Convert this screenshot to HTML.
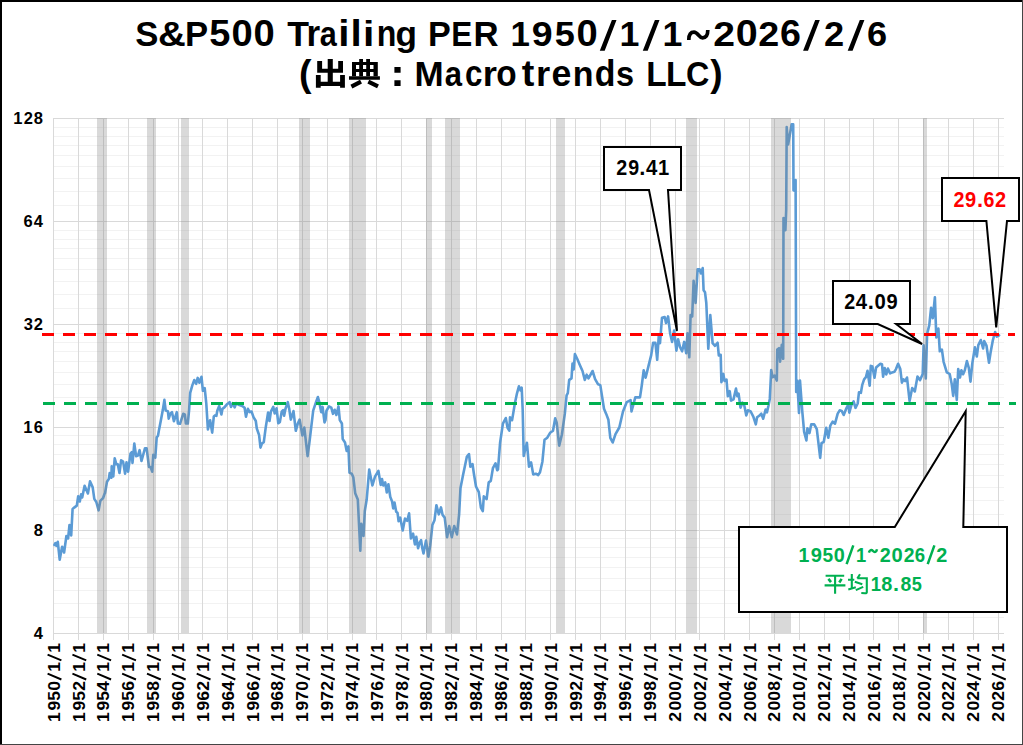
<!DOCTYPE html><html><head><meta charset="utf-8"><style>html,body{margin:0;padding:0;background:#fff;}body{width:1023px;height:745px;overflow:hidden;}svg{display:block;}text{font-family:"Liberation Sans",sans-serif;font-weight:bold;}</style></head><body>
<svg width="1023" height="745" viewBox="0 0 1023 745">
<rect x="0" y="0" width="1023" height="745" fill="#fff"/>
<path d="M53 617.5H1004M53 603.5H1004M53 590.5H1004M53 578.5H1004M53 567.5H1004M53 557.5H1004M53 547.5H1004M53 538.5H1004M53 514.5H1004M53 500.5H1004M53 487.5H1004M53 475.5H1004M53 464.5H1004M53 454.5H1004M53 444.5H1004M53 435.5H1004M53 411.5H1004M53 397.5H1004M53 384.5H1004M53 372.5H1004M53 361.5H1004M53 351.5H1004M53 342.5H1004M53 333.5H1004M53 308.5H1004M53 294.5H1004M53 281.5H1004M53 269.5H1004M53 258.5H1004M53 248.5H1004M53 239.5H1004M53 230.5H1004M53 205.5H1004M53 191.5H1004M53 178.5H1004M53 166.5H1004M53 155.5H1004M53 145.5H1004M53 136.5H1004M53 127.5H1004" stroke="#f2f2f2" stroke-width="1" fill="none"/>
<path d="M53.5 118V640M78.5 118V640M103.5 118V640M128.5 118V640M153.5 118V640M178.5 118V640M202.5 118V640M227.5 118V640M252.5 118V640M277.5 118V640M302.5 118V640M327.5 118V640M352.5 118V640M376.5 118V640M401.5 118V640M426.5 118V640M451.5 118V640M476.5 118V640M501.5 118V640M525.5 118V640M550.5 118V640M575.5 118V640M600.5 118V640M625.5 118V640M650.5 118V640M675.5 118V640M699.5 118V640M724.5 118V640M749.5 118V640M774.5 118V640M799.5 118V640M824.5 118V640M849.5 118V640M873.5 118V640M898.5 118V640M923.5 118V640M948.5 118V640M973.5 118V640M998.5 118V640" stroke="#d9d9d9" stroke-width="1" fill="none"/>
<path d="M53 118.5H1004M53 221.5H1004M53 324.5H1004M53 427.5H1004M53 530.5H1004M53 633.5H1004" stroke="#d9d9d9" stroke-width="1" fill="none"/>
<path d="M54.4 545.0 L55.4 543.2 L56.4 545.8 L57.8 541.8 L59.7 559.7 L62.1 546.8 L64.1 552.5 L66.4 536.0 L68.1 538.5 L69.5 525.0 L71.2 535.5 L72.6 508.9 L74.2 507.6 L76.8 505.6 L78.2 496.2 L79.8 501.5 L81.1 494.4 L82.2 497.5 L84.6 485.8 L87.9 493.5 L90.0 481.4 L92.7 487.4 L94.3 498.9 L96.3 502.0 L98.6 510.3 L100.3 500.9 L103.0 498.2 L104.4 494.2 L105.0 493.2 L107.0 481.7 L108.8 479.1 L109.7 473.0 L111.4 477.7 L111.7 466.3 L113.3 476.4 L114.7 458.3 L116.4 464.3 L117.8 464.3 L119.5 473.0 L121.1 460.3 L123.1 461.6 L125.1 473.7 L126.5 462.3 L128.1 471.7 L130.5 453.6 L131.8 452.2 L132.5 463.0 L134.3 443.5 L136.1 456.2 L137.9 455.6 L139.6 450.2 L141.5 461.0 L145.0 448.2 L146.6 448.2 L149.0 467.0 L150.6 467.0 L152.2 471.7 L153.3 454.9 L155.3 457.6 L156.7 437.4 L158.0 435.8 L159.1 429.4 L160.7 421.3 L162.8 410.1 L164.4 399.9 L165.7 410.6 L167.9 411.2 L168.7 418.7 L170.3 413.8 L172.0 412.2 L173.9 421.3 L176.8 412.2 L177.9 423.5 L180.0 423.8 L183.2 413.8 L184.8 414.4 L185.9 423.5 L187.8 423.5 L189.1 410.1 L190.2 392.9 L192.3 385.4 L194.3 380.0 L196.1 383.8 L197.7 377.9 L199.3 382.7 L201.5 376.8 L202.9 390.8 L204.7 388.1 L206.3 403.6 L207.9 429.4 L210.1 420.3 L212.2 432.6 L213.8 416.5 L215.0 415.4 L216.4 415.8 L217.3 410.7 L219.2 406.0 L221.4 414.4 L222.5 408.8 L224.4 407.4 L226.7 404.6 L229.6 402.2 L231.0 406.9 L232.8 403.1 L234.7 407.4 L236.1 403.1 L239.4 405.0 L242.2 406.0 L244.6 407.8 L246.0 416.8 L247.9 408.8 L249.7 412.1 L251.6 411.6 L253.5 417.2 L255.8 421.0 L256.8 428.5 L259.1 435.1 L260.5 447.7 L261.9 443.5 L263.8 442.1 L265.7 427.6 L268.1 412.5 L269.5 421.0 L270.9 411.6 L273.3 406.9 L274.7 413.5 L276.6 408.3 L278.3 423.3 L279.9 421.9 L281.7 411.6 L283.1 410.2 L284.1 415.8 L285.5 408.8 L287.8 402.2 L289.2 408.8 L290.8 419.6 L293.5 411.1 L295.8 430.8 L297.7 423.8 L299.6 419.6 L302.4 435.5 L304.3 427.6 L307.6 456.2 L309.4 442.6 L311.3 426.6 L313.2 410.7 L316.0 402.2 L317.9 397.0 L319.3 402.2 L321.2 412.1 L322.6 406.9 L324.5 422.4 L325.5 420.0 L326.4 411.0 L329.0 406.4 L331.3 407.6 L333.0 413.8 L334.7 409.8 L336.4 415.0 L338.5 406.4 L339.8 420.1 L341.9 423.5 L342.7 439.0 L345.0 442.4 L346.7 451.0 L348.4 446.4 L349.5 472.6 L351.8 473.8 L353.3 477.2 L355.2 493.2 L357.8 499.5 L360.3 550.6 L361.3 523.8 L363.5 535.9 L364.8 511.0 L366.7 499.5 L369.2 469.6 L372.4 485.5 L375.0 476.6 L378.4 470.8 L380.7 484.9 L382.0 479.1 L383.3 485.5 L385.2 482.3 L386.8 492.5 L388.4 484.2 L390.3 497.0 L392.1 501.5 L393.2 508.4 L394.5 502.5 L396.2 511.7 L397.5 512.7 L398.6 521.3 L400.2 517.6 L402.7 530.4 L405.0 518.6 L407.2 520.8 L409.1 513.3 L410.9 538.5 L413.1 533.7 L414.9 544.4 L416.3 536.9 L418.1 548.2 L419.5 542.8 L421.1 540.1 L422.2 547.6 L423.5 553.5 L426.0 540.6 L428.4 556.7 L430.2 545.5 L432.4 525.1 L434.5 520.2 L436.4 505.2 L438.8 514.3 L441.0 507.4 L442.6 514.9 L444.7 517.6 L447.1 537.3 L449.2 526.0 L451.8 537.3 L454.2 526.0 L457.0 534.4 L459.1 514.7 L460.5 487.9 L463.0 475.2 L466.8 456.9 L469.0 454.1 L470.4 466.8 L472.5 464.0 L473.9 473.8 L476.0 486.5 L478.8 492.1 L480.9 507.7 L482.8 511.2 L483.8 496.4 L486.6 499.2 L488.7 482.3 L490.8 480.9 L492.9 468.2 L495.5 463.3 L497.2 470.3 L498.0 469.4 L500.1 442.7 L502.9 423.6 L505.8 418.0 L507.6 427.9 L509.3 430.7 L510.0 417.3 L512.1 420.1 L514.9 403.2 L517.0 393.3 L518.9 386.3 L520.6 390.5 L521.7 387.7 L522.7 410.2 L523.7 456.0 L525.5 448.3 L526.9 442.7 L529.0 466.6 L531.1 462.4 L533.2 474.4 L535.8 473.7 L538.2 475.1 L540.0 472.3 L542.4 461.7 L544.5 439.8 L547.3 437.7 L550.1 432.8 L553.0 430.7 L555.2 418.3 L556.7 422.7 L559.2 445.6 L561.9 434.5 L564.8 413.9 L566.6 395.4 L567.8 393.2 L569.2 379.9 L571.5 378.4 L572.5 363.6 L573.7 369.5 L574.9 354.0 L577.4 359.2 L579.6 364.4 L582.5 371.0 L584.8 379.9 L586.7 374.7 L588.5 378.4 L592.6 371.0 L595.1 379.1 L598.1 384.3 L600.3 385.1 L604.0 408.7 L606.2 413.9 L608.4 419.8 L610.3 437.8 L612.7 442.5 L615.5 434.1 L619.3 427.5 L623.0 411.5 L626.8 402.1 L630.6 400.2 L631.5 411.5 L635.3 397.4 L640.0 397.4 L641.8 385.2 L643.7 370.2 L645.6 377.7 L648.4 366.4 L651.2 355.1 L653.1 342.9 L655.4 342.9 L657.2 359.8 L658.8 335.4 L660.0 343.2 L662.0 317.7 L664.7 317.0 L666.0 323.1 L668.1 316.4 L670.1 333.2 L672.1 341.9 L674.1 330.5 L676.4 350.6 L678.1 339.2 L680.1 347.2 L682.1 351.3 L684.2 341.9 L686.2 353.3 L687.5 333.2 L689.3 357.3 L690.6 315.0 L692.2 316.4 L693.6 280.8 L695.6 303.0 L697.6 269.4 L699.6 269.4 L700.9 273.4 L702.7 268.1 L703.6 290.2 L705.0 292.2 L706.3 303.0 L708.3 348.6 L710.3 315.0 L712.6 343.2 L715.0 345.9 L717.6 342.7 L718.8 355.4 L720.7 354.8 L721.4 382.2 L723.3 373.9 L724.6 380.9 L726.5 379.6 L727.8 396.2 L729.7 391.1 L731.0 400.7 L733.5 399.4 L736.0 388.6 L737.3 396.2 L738.6 393.7 L740.5 407.7 L742.4 402.6 L744.1 404.5 L746.3 415.4 L747.9 410.3 L750.7 411.5 L753.3 416.6 L755.8 424.3 L757.1 417.3 L759.2 415.8 L761.3 413.7 L763.2 418.7 L765.6 409.5 L767.0 412.3 L768.4 406.0 L769.8 398.9 L771.2 370.0 L772.6 377.1 L774.7 375.7 L776.8 380.6 L777.3 349.6 L779.0 348.2 L780.1 361.6 L781.8 344.7 L783.2 358.8 L783.5 218.0 L785.4 230.1 L786.2 210.0 L786.7 127.1 L788.1 144.5 L790.5 131.1 L791.6 124.4 L793.2 124.4 L793.5 190.2 L794.8 190.8 L795.6 180.1 L796.2 391.9 L797.3 380.6 L799.0 413.0 L800.0 380.6 L801.4 399.5 L802.3 411.6 L804.1 431.7 L806.4 440.5 L807.4 428.4 L809.5 433.1 L811.2 424.4 L814.2 424.4 L816.8 429.1 L820.2 457.9 L821.5 443.2 L823.8 441.8 L826.2 427.7 L828.3 437.8 L830.3 425.7 L832.7 421.7 L835.0 423.7 L837.7 413.6 L839.7 410.3 L841.7 410.9 L843.7 415.0 L846.1 408.9 L848.4 404.2 L849.3 412.6 L851.4 405.1 L853.6 401.3 L855.5 407.8 L857.7 403.5 L859.0 392.2 L860.9 392.8 L862.2 385.2 L864.1 379.3 L865.9 377.2 L867.5 370.8 L869.7 385.8 L870.8 365.9 L872.4 366.5 L874.5 377.7 L876.1 367.5 L880.4 363.8 L882.0 364.3 L883.1 376.7 L884.7 368.1 L886.3 374.5 L887.9 368.6 L890.1 373.4 L892.2 372.4 L894.4 371.8 L896.0 369.1 L898.1 363.8 L900.3 369.1 L901.9 382.6 L903.5 379.3 L905.2 381.0 L907.0 377.5 L909.6 401.1 L912.2 388.0 L914.8 391.5 L917.5 376.6 L920.1 380.1 L922.7 374.0 L923.6 345.2 L925.8 378.4 L927.1 333.9 L929.3 325.1 L931.1 307.7 L932.8 318.2 L934.9 297.2 L936.3 337.4 L938.4 328.6 L939.8 351.3 L941.9 349.6 L943.6 361.8 L946.8 372.3 L949.7 374.0 L951.7 383.9 L953.2 395.9 L954.8 379.4 L956.8 399.9 L958.2 369.1 L960.0 377.6 L961.4 370.2 L963.1 374.2 L964.8 370.2 L966.9 361.1 L968.8 367.9 L970.5 381.6 L972.3 363.4 L974.9 347.4 L976.8 356.5 L978.3 345.1 L980.8 340.0 L983.1 348.5 L984.2 341.1 L986.5 345.7 L989.0 362.8 L990.5 353.1 L992.8 340.5 L995.1 332.0 L996.8 336.6 L999.1 335.4" stroke="#5b9bd5" stroke-width="2.6" fill="none" stroke-linejoin="round" stroke-linecap="round"/>
<rect x="97" y="118" width="10" height="515" fill="#808080" fill-opacity="0.3"/>
<rect x="147" y="118" width="9" height="515" fill="#808080" fill-opacity="0.3"/>
<rect x="181" y="118" width="8" height="515" fill="#808080" fill-opacity="0.3"/>
<rect x="299" y="118" width="11" height="515" fill="#808080" fill-opacity="0.3"/>
<rect x="349" y="118" width="17" height="515" fill="#808080" fill-opacity="0.3"/>
<rect x="426" y="118" width="6" height="515" fill="#808080" fill-opacity="0.3"/>
<rect x="445" y="118" width="15" height="515" fill="#808080" fill-opacity="0.3"/>
<rect x="556" y="118" width="9" height="515" fill="#808080" fill-opacity="0.3"/>
<rect x="686" y="118" width="11" height="515" fill="#808080" fill-opacity="0.3"/>
<rect x="771" y="118" width="20" height="515" fill="#808080" fill-opacity="0.3"/>
<rect x="923" y="118" width="4" height="515" fill="#808080" fill-opacity="0.3"/>
<path d="M42 334.5H1015" stroke="#ff0000" stroke-width="3" stroke-dasharray="12 9" fill="none"/>
<path d="M43 403.5H1016" stroke="#00b050" stroke-width="3" stroke-dasharray="12 9" fill="none"/>
<rect x="0" y="0" width="1023" height="2" fill="#000"/><rect x="0" y="0" width="2" height="745" fill="#000"/>
<rect x="1022" y="0" width="1" height="745" fill="#444"/><rect x="0" y="744" width="1023" height="1" fill="#444"/>
<path d="M604 147H681V190H668L677 331L649 190H604Z" fill="#fff" stroke="#000" stroke-width="2" stroke-linejoin="miter"/>
<path d="M833 281H910V324H896.1L922.1 344L877.8 324H833Z" fill="#fff" stroke="#000" stroke-width="2" stroke-linejoin="miter"/>
<path d="M942 178H1019V221H1007L996.2 327.4L986.4 221H942Z" fill="#fff" stroke="#000" stroke-width="2" stroke-linejoin="miter"/>
<path d="M739 527H894.8L965.7 411.2L963.3 527H1007V612H739Z" fill="#fff" stroke="#000" stroke-width="2"/>
<text transform="translate(616.28 175.1) scale(0.895 1)" font-size="22" fill="#000">2</text><text transform="translate(628.27 175.1) scale(0.891 1)" font-size="22" fill="#000">9</text><text transform="translate(639.21 175.1) scale(0.999 1)" font-size="22" fill="#000">.</text><text transform="translate(646.00 175.1) scale(0.924 1)" font-size="22" fill="#000">4</text><text transform="translate(657.95 175.1) scale(0.915 1)" font-size="22" fill="#000">1</text>
<text transform="translate(844.28 309.2) scale(0.895 1)" font-size="22" fill="#000">2</text><text transform="translate(855.80 309.2) scale(0.924 1)" font-size="22" fill="#000">4</text><text transform="translate(867.71 309.2) scale(0.999 1)" font-size="22" fill="#000">.</text><text transform="translate(874.42 309.2) scale(0.922 1)" font-size="22" fill="#000">0</text><text transform="translate(886.50 309.2) scale(0.911 1)" font-size="22" fill="#000">9</text>
<text transform="translate(953.38 207.1) scale(0.895 1)" font-size="22" fill="#ff0000">2</text><text transform="translate(965.10 207.1) scale(0.911 1)" font-size="22" fill="#ff0000">9</text><text transform="translate(976.91 207.1) scale(0.999 1)" font-size="22" fill="#ff0000">.</text><text transform="translate(983.54 207.1) scale(0.892 1)" font-size="22" fill="#ff0000">6</text><text transform="translate(995.10 207.1) scale(0.908 1)" font-size="22" fill="#ff0000">2</text>
<text transform="translate(798.42 561.6) scale(0.930 1)" font-size="21" fill="#00b050">1</text><text transform="translate(810.71 561.6) scale(0.961 1)" font-size="21" fill="#00b050">9</text><text transform="translate(822.51 561.6) scale(0.910 1)" font-size="21" fill="#00b050">5</text><text transform="translate(833.70 561.6) scale(0.945 1)" font-size="21" fill="#00b050">0</text><text transform="translate(855.88 561.6) scale(0.873 1)" font-size="21" fill="#00b050">1</text><text transform="translate(879.69 561.6) scale(0.944 1)" font-size="21" fill="#00b050">2</text><text transform="translate(891.62 561.6) scale(0.959 1)" font-size="21" fill="#00b050">0</text><text transform="translate(903.66 561.6) scale(0.923 1)" font-size="21" fill="#00b050">2</text><text transform="translate(914.87 561.6) scale(0.886 1)" font-size="21" fill="#00b050">6</text><text transform="translate(936.19 561.6) scale(0.944 1)" font-size="21" fill="#00b050">2</text>
<path d="M846.6 564.2L853.3 545.3M927.7 564.2L934.4 545.3M868.9 552.6C869.6 549.6 871.6 549.4 873 551C874.4 552.6 876.4 552.4 877 549.3" stroke="#00b050" stroke-width="2.5" fill="none"/>
<text transform="translate(870.68 591.2) scale(0.880 1)" font-size="21" fill="#00b050">1</text><text transform="translate(881.25 591.2) scale(0.948 1)" font-size="21" fill="#00b050">8</text><text transform="translate(892.95 591.2) scale(1.032 1)" font-size="21" fill="#00b050">.</text><text transform="translate(900.62 591.2) scale(0.928 1)" font-size="21" fill="#00b050">8</text><text transform="translate(911.64 591.2) scale(0.863 1)" font-size="21" fill="#00b050">5</text>
<text transform="translate(135.24 46) scale(0.965 1)" font-size="36" fill="#000">S</text><text transform="translate(158.05 46) scale(1.069 1)" font-size="36" fill="#000">&amp;</text><text transform="translate(185.12 46) scale(0.963 1)" font-size="36" fill="#000">P</text><text transform="translate(209.34 46) scale(1.054 1)" font-size="36" fill="#000">5</text><text transform="translate(231.61 46) scale(1.060 1)" font-size="36" fill="#000">0</text><text transform="translate(253.51 46) scale(1.060 1)" font-size="36" fill="#000">0</text><text transform="translate(287.15 46) scale(0.990 1)" font-size="36" fill="#000">T</text><text transform="translate(306.43 46) scale(0.975 1)" font-size="36" fill="#000">r</text><text transform="translate(319.80 46) scale(0.850 1)" font-size="36" fill="#000">a</text><text transform="translate(338.31 46) scale(1.122 1)" font-size="36" fill="#000">i</text><text transform="translate(350.61 46) scale(1.122 1)" font-size="36" fill="#000">l</text><text transform="translate(362.89 46) scale(1.136 1)" font-size="36" fill="#000">i</text><text transform="translate(376.78 46) scale(0.892 1)" font-size="36" fill="#000">n</text><text transform="translate(395.57 46) scale(0.977 1)" font-size="36" fill="#000">g</text><text transform="translate(428.09 46) scale(0.949 1)" font-size="36" fill="#000">P</text><text transform="translate(451.35 46) scale(0.875 1)" font-size="36" fill="#000">E</text><text transform="translate(473.40 46) scale(0.965 1)" font-size="36" fill="#000">R</text><text transform="translate(510.59 46) scale(0.969 1)" font-size="36" fill="#000">1</text><text transform="translate(531.76 46) scale(1.043 1)" font-size="36" fill="#000">9</text><text transform="translate(554.80 46) scale(1.003 1)" font-size="36" fill="#000">5</text><text transform="translate(576.51 46) scale(1.060 1)" font-size="36" fill="#000">0</text><text transform="translate(619.52 46) scale(0.994 1)" font-size="36" fill="#000">1</text><text transform="translate(662.52 46) scale(0.994 1)" font-size="36" fill="#000">1</text><text transform="translate(713.37 46) scale(1.088 1)" font-size="36" fill="#000">2</text><text transform="translate(735.79 46) scale(1.097 1)" font-size="36" fill="#000">0</text><text transform="translate(758.37 46) scale(1.047 1)" font-size="36" fill="#000">2</text><text transform="translate(779.89 46) scale(1.044 1)" font-size="36" fill="#000">6</text><text transform="translate(823.97 46) scale(1.007 1)" font-size="36" fill="#000">2</text><text transform="translate(866.99 46) scale(1.004 1)" font-size="36" fill="#000">6</text>
<path fill="#000" d="M611.9 20.1H616.5L604.7 50.7H599.8ZM654.9 20.1H659.5L647.7 50.7H642.8ZM815.2 20.1H819.8L808.0 50.7H803.1ZM859.8 20.1H864.4L852.6 50.7H847.7Z"/>
<path d="M688.8 39.9C688.8 34.2 691 32.1 694 32.1C697.8 32.1 699 37.9 702.6 37.9C705.6 37.9 707.8 35.6 707.8 30.1" stroke="#000" stroke-width="3.7" fill="none"/>
<text transform="translate(299.12 86) scale(1.044 1)" font-size="36" fill="#000">(</text><text transform="translate(414.51 86) scale(0.973 1)" font-size="36" fill="#000">M</text><text transform="translate(444.82 86) scale(0.862 1)" font-size="36" fill="#000">a</text><text transform="translate(465.09 86) scale(0.870 1)" font-size="36" fill="#000">c</text><text transform="translate(482.63 86) scale(1.013 1)" font-size="36" fill="#000">r</text><text transform="translate(496.30 86) scale(0.928 1)" font-size="36" fill="#000">o</text><text transform="translate(521.66 86) scale(1.050 1)" font-size="36" fill="#000">t</text><text transform="translate(536.03 86) scale(1.013 1)" font-size="36" fill="#000">r</text><text transform="translate(551.58 86) scale(0.993 1)" font-size="36" fill="#000">e</text><text transform="translate(572.85 86) scale(0.944 1)" font-size="36" fill="#000">n</text><text transform="translate(594.78 86) scale(0.941 1)" font-size="36" fill="#000">d</text><text transform="translate(616.00 86) scale(0.904 1)" font-size="36" fill="#000">s</text><text transform="translate(646.18 86) scale(0.929 1)" font-size="36" fill="#000">L</text><text transform="translate(665.98 86) scale(0.929 1)" font-size="36" fill="#000">L</text><text transform="translate(685.96 86) scale(0.898 1)" font-size="36" fill="#000">C</text><text transform="translate(710.23 86) scale(1.030 1)" font-size="36" fill="#000">)</text>
<path fill="#000" d="M327.7 59h5.1v27h-5.1z M317.2 60.9h4.9v11.8h-4.9z M338.2 60.9h4.8v11.8h-4.8z M317.2 68.7h25.8v4h-25.8z M315.9 75.1h4.8v12.7h-4.8z M340.1 75.1h4.8v12.7h-4.8z M315.9 81.8h29v4.3h-29z"/>
<path fill="#000" fill-rule="evenodd" d="M352 62h25.8v14.2h-25.8z M356 64.9h3.2v4.1h-3.2z M363 64.9h3.2v4.1h-3.2z M370 64.9h3.5v4.1h-3.5z M356 71.9h3.2v4.3h-3.2z M363 71.9h3.2v4.3h-3.2z M370 71.9h3.5v4.3h-3.5z"/>
<path fill="#000" d="M359.2 59h3.8v5h-3.8z M366.2 59h3.8v5h-3.8z M349 76.2h30.9v3.5h-30.9z"/>
<path stroke="#000" stroke-width="4.2" d="M361 81.6L351.4 86.6 M368.3 81.6L378 86.4"/>
<path fill="#000" d="M394.4 67.1h6.2v5.6h-6.2z M394.4 80.2h6.2v5.7h-6.2z"/>
<g stroke="#00b050" fill="none" stroke-width="2.1"><path d="M825.6 575.7H844.2 M824.6 585.4H845.4 M835.1 576.7V593.8"/><path stroke-width="2.6" d="M828.4 578.9L831 582.1 M841.6 578.9L839.3 582.5"/>
<path d="M851.8 574V588 M848 579.8H854.3 M848.3 589.5L855.8 587.3 M860 574.3L857.3 578.5 M857.3 578.2H866.8V592.2Q866.8 593.4 865 593.2L861.3 593 M854.8 581.8L862.3 584.3 M855.8 590.1L863.2 586.9"/></g>
<text x="13.17 23.66 33.75" y="123.8" font-size="16.5">128</text>
<text x="23.61 33.68" y="226.8" font-size="16.5">64</text>
<text x="23.72 33.81" y="329.8" font-size="16.5">32</text>
<text x="23.32 33.76" y="432.7" font-size="16.5">16</text>
<text x="33.75" y="535.7" font-size="16.5">8</text>
<text x="33.68" y="638.7" font-size="16.5">4</text>
<text transform="translate(59.69 720.3) rotate(-90) scale(1.12 1)" x="-1.52 8.73 17.49 26.36 43.44 60.36" y="0" font-size="15.7">195011</text>
<text transform="translate(84.54 720.3) rotate(-90) scale(1.12 1)" x="-1.52 8.73 17.49 26.39 43.44 60.36" y="0" font-size="15.7">195211</text>
<text transform="translate(109.39 720.3) rotate(-90) scale(1.12 1)" x="-1.52 8.73 17.49 26.27 43.44 60.36" y="0" font-size="15.7">195411</text>
<text transform="translate(134.25 720.3) rotate(-90) scale(1.12 1)" x="-1.52 8.73 17.49 26.34 43.44 60.36" y="0" font-size="15.7">195611</text>
<text transform="translate(159.10 720.3) rotate(-90) scale(1.12 1)" x="-1.52 8.73 17.49 26.34 43.44 60.36" y="0" font-size="15.7">195811</text>
<text transform="translate(183.95 720.3) rotate(-90) scale(1.12 1)" x="-1.52 8.73 17.51 26.36 43.44 60.36" y="0" font-size="15.7">196011</text>
<text transform="translate(208.80 720.3) rotate(-90) scale(1.12 1)" x="-1.52 8.73 17.51 26.39 43.44 60.36" y="0" font-size="15.7">196211</text>
<text transform="translate(233.65 720.3) rotate(-90) scale(1.12 1)" x="-1.52 8.73 17.51 26.27 43.44 60.36" y="0" font-size="15.7">196411</text>
<text transform="translate(258.50 720.3) rotate(-90) scale(1.12 1)" x="-1.52 8.73 17.51 26.34 43.44 60.36" y="0" font-size="15.7">196611</text>
<text transform="translate(283.36 720.3) rotate(-90) scale(1.12 1)" x="-1.52 8.73 17.51 26.34 43.44 60.36" y="0" font-size="15.7">196811</text>
<text transform="translate(308.21 720.3) rotate(-90) scale(1.12 1)" x="-1.52 8.73 17.52 26.36 43.44 60.36" y="0" font-size="15.7">197011</text>
<text transform="translate(333.06 720.3) rotate(-90) scale(1.12 1)" x="-1.52 8.73 17.52 26.39 43.44 60.36" y="0" font-size="15.7">197211</text>
<text transform="translate(357.91 720.3) rotate(-90) scale(1.12 1)" x="-1.52 8.73 17.52 26.27 43.44 60.36" y="0" font-size="15.7">197411</text>
<text transform="translate(382.76 720.3) rotate(-90) scale(1.12 1)" x="-1.52 8.73 17.52 26.34 43.44 60.36" y="0" font-size="15.7">197611</text>
<text transform="translate(407.61 720.3) rotate(-90) scale(1.12 1)" x="-1.52 8.73 17.52 26.34 43.44 60.36" y="0" font-size="15.7">197811</text>
<text transform="translate(432.47 720.3) rotate(-90) scale(1.12 1)" x="-1.52 8.73 17.50 26.36 43.44 60.36" y="0" font-size="15.7">198011</text>
<text transform="translate(457.32 720.3) rotate(-90) scale(1.12 1)" x="-1.52 8.73 17.50 26.39 43.44 60.36" y="0" font-size="15.7">198211</text>
<text transform="translate(482.17 720.3) rotate(-90) scale(1.12 1)" x="-1.52 8.73 17.50 26.27 43.44 60.36" y="0" font-size="15.7">198411</text>
<text transform="translate(507.02 720.3) rotate(-90) scale(1.12 1)" x="-1.52 8.73 17.50 26.34 43.44 60.36" y="0" font-size="15.7">198611</text>
<text transform="translate(531.87 720.3) rotate(-90) scale(1.12 1)" x="-1.52 8.73 17.50 26.34 43.44 60.36" y="0" font-size="15.7">198811</text>
<text transform="translate(556.72 720.3) rotate(-90) scale(1.12 1)" x="-1.52 8.73 17.53 26.36 43.44 60.36" y="0" font-size="15.7">199011</text>
<text transform="translate(581.58 720.3) rotate(-90) scale(1.12 1)" x="-1.52 8.73 17.53 26.39 43.44 60.36" y="0" font-size="15.7">199211</text>
<text transform="translate(606.43 720.3) rotate(-90) scale(1.12 1)" x="-1.52 8.73 17.53 26.27 43.44 60.36" y="0" font-size="15.7">199411</text>
<text transform="translate(631.28 720.3) rotate(-90) scale(1.12 1)" x="-1.52 8.73 17.53 26.34 43.44 60.36" y="0" font-size="15.7">199611</text>
<text transform="translate(656.13 720.3) rotate(-90) scale(1.12 1)" x="-1.52 8.73 17.53 26.34 43.44 60.36" y="0" font-size="15.7">199811</text>
<text transform="translate(680.98 720.3) rotate(-90) scale(1.12 1)" x="-1.20 8.73 17.52 26.36 43.44 60.36" y="0" font-size="15.7">200011</text>
<text transform="translate(705.83 720.3) rotate(-90) scale(1.12 1)" x="-1.20 8.73 17.52 26.39 43.44 60.36" y="0" font-size="15.7">200211</text>
<text transform="translate(730.69 720.3) rotate(-90) scale(1.12 1)" x="-1.20 8.73 17.52 26.27 43.44 60.36" y="0" font-size="15.7">200411</text>
<text transform="translate(755.54 720.3) rotate(-90) scale(1.12 1)" x="-1.20 8.73 17.52 26.34 43.44 60.36" y="0" font-size="15.7">200611</text>
<text transform="translate(780.39 720.3) rotate(-90) scale(1.12 1)" x="-1.20 8.73 17.52 26.34 43.44 60.36" y="0" font-size="15.7">200811</text>
<text transform="translate(805.24 720.3) rotate(-90) scale(1.12 1)" x="-1.20 8.73 17.23 26.36 43.44 60.36" y="0" font-size="15.7">201011</text>
<text transform="translate(830.09 720.3) rotate(-90) scale(1.12 1)" x="-1.20 8.73 17.23 26.39 43.44 60.36" y="0" font-size="15.7">201211</text>
<text transform="translate(854.94 720.3) rotate(-90) scale(1.12 1)" x="-1.20 8.73 17.23 26.27 43.44 60.36" y="0" font-size="15.7">201411</text>
<text transform="translate(879.80 720.3) rotate(-90) scale(1.12 1)" x="-1.20 8.73 17.23 26.34 43.44 60.36" y="0" font-size="15.7">201611</text>
<text transform="translate(904.65 720.3) rotate(-90) scale(1.12 1)" x="-1.20 8.73 17.23 26.34 43.44 60.36" y="0" font-size="15.7">201811</text>
<text transform="translate(929.50 720.3) rotate(-90) scale(1.12 1)" x="-1.20 8.73 17.55 26.36 43.44 60.36" y="0" font-size="15.7">202011</text>
<text transform="translate(954.35 720.3) rotate(-90) scale(1.12 1)" x="-1.20 8.73 17.55 26.39 43.44 60.36" y="0" font-size="15.7">202211</text>
<text transform="translate(979.20 720.3) rotate(-90) scale(1.12 1)" x="-1.20 8.73 17.55 26.27 43.44 60.36" y="0" font-size="15.7">202411</text>
<text transform="translate(1004.05 720.3) rotate(-90) scale(1.12 1)" x="-1.20 8.73 17.55 26.34 43.44 60.36" y="0" font-size="15.7">202611</text>
<path d="M47.59 654.6L61.39 660.4M47.59 673.7L61.39 679.5M72.44 654.6L86.24 660.4M72.44 673.7L86.24 679.5M97.29 654.6L111.09 660.4M97.29 673.7L111.09 679.5M122.15 654.6L135.95 660.4M122.15 673.7L135.95 679.5M147.00 654.6L160.80 660.4M147.00 673.7L160.80 679.5M171.85 654.6L185.65 660.4M171.85 673.7L185.65 679.5M196.70 654.6L210.50 660.4M196.70 673.7L210.50 679.5M221.55 654.6L235.35 660.4M221.55 673.7L235.35 679.5M246.40 654.6L260.20 660.4M246.40 673.7L260.20 679.5M271.26 654.6L285.06 660.4M271.26 673.7L285.06 679.5M296.11 654.6L309.91 660.4M296.11 673.7L309.91 679.5M320.96 654.6L334.76 660.4M320.96 673.7L334.76 679.5M345.81 654.6L359.61 660.4M345.81 673.7L359.61 679.5M370.66 654.6L384.46 660.4M370.66 673.7L384.46 679.5M395.51 654.6L409.31 660.4M395.51 673.7L409.31 679.5M420.37 654.6L434.17 660.4M420.37 673.7L434.17 679.5M445.22 654.6L459.02 660.4M445.22 673.7L459.02 679.5M470.07 654.6L483.87 660.4M470.07 673.7L483.87 679.5M494.92 654.6L508.72 660.4M494.92 673.7L508.72 679.5M519.77 654.6L533.57 660.4M519.77 673.7L533.57 679.5M544.62 654.6L558.42 660.4M544.62 673.7L558.42 679.5M569.48 654.6L583.28 660.4M569.48 673.7L583.28 679.5M594.33 654.6L608.13 660.4M594.33 673.7L608.13 679.5M619.18 654.6L632.98 660.4M619.18 673.7L632.98 679.5M644.03 654.6L657.83 660.4M644.03 673.7L657.83 679.5M668.88 654.6L682.68 660.4M668.88 673.7L682.68 679.5M693.73 654.6L707.53 660.4M693.73 673.7L707.53 679.5M718.59 654.6L732.39 660.4M718.59 673.7L732.39 679.5M743.44 654.6L757.24 660.4M743.44 673.7L757.24 679.5M768.29 654.6L782.09 660.4M768.29 673.7L782.09 679.5M793.14 654.6L806.94 660.4M793.14 673.7L806.94 679.5M817.99 654.6L831.79 660.4M817.99 673.7L831.79 679.5M842.84 654.6L856.64 660.4M842.84 673.7L856.64 679.5M867.70 654.6L881.50 660.4M867.70 673.7L881.50 679.5M892.55 654.6L906.35 660.4M892.55 673.7L906.35 679.5M917.40 654.6L931.20 660.4M917.40 673.7L931.20 679.5M942.25 654.6L956.05 660.4M942.25 673.7L956.05 679.5M967.10 654.6L980.90 660.4M967.10 673.7L980.90 679.5M991.95 654.6L1005.75 660.4M991.95 673.7L1005.75 679.5" stroke="#000" stroke-width="1.9" fill="none"/>
</svg></body></html>
